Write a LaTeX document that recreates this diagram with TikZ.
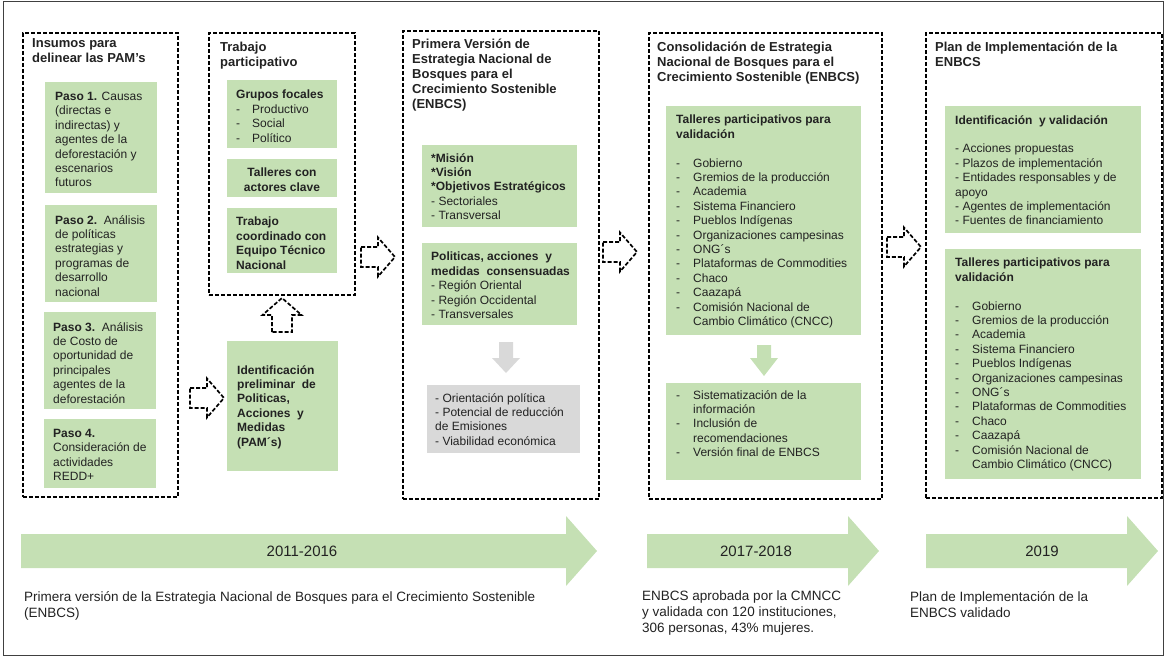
\documentclass[tikz,border=0pt]{standalone}
\usepackage{fontspec}
\setmainfont{Liberation Sans}
\definecolor{gfill}{HTML}{C5E0B4}
\definecolor{grayfill}{HTML}{D9D9D9}
\definecolor{txt}{HTML}{222222}
\tikzset{
  frame/.style={draw=black, line width=1.7pt, dash pattern=on 4pt off 2pt},
  dbox/.style={frame, anchor=north west, inner sep=0pt},
  gbox/.style={fill=gfill, draw=none, anchor=north west, inner sep=0pt},
  graybox/.style={fill=grayfill, draw=none, anchor=north west, inner sep=0pt},
  txtn/.style={anchor=north west, inner sep=0pt, align=left, text=txt, font=\fontsize{12}{14.4}\selectfont},
  ttl/.style={anchor=north west, inner sep=0pt, align=left, text=txt, font=\fontsize{13}{15}\selectfont\bfseries},
  yr/.style={inner sep=0pt, text=txt, font=\fontsize{15}{18}\selectfont},
  btxt/.style={anchor=north west, inner sep=0pt, align=left, text=txt, font=\fontsize{13.5}{16}\selectfont},
  rarr/.pic={\draw[frame, line join=miter] (0,-10) -- (17,-10) -- (17,-19.5) -- (34,0) -- (17,19.5) -- (17,10) -- (0,10) -- cycle;}
}
\newcommand\dsh[1]{\makebox[#1][l]{-}}
\begin{document}
\begin{tikzpicture}[x=1pt,y=-1pt]
\useasboundingbox (0,0) rectangle (1164,656);
\draw[black!75, line width=0.8pt] (3,1) rectangle (1163,655);

% ---------- Box 1
\node[dbox, minimum width=155pt, minimum height=464pt] (b1) at (22,32) {};
\node[ttl] (b1t) at (32,38) {Insumos para\\delinear las PAM’s};
\node[gbox, minimum width=112pt, minimum height=111pt] (p1) at (45,82) {};
\node[txtn] (p1t) at (55,92) {\textbf{Paso 1.} Causas\\(directas e\\indirectas) y\\agentes de la\\deforestación y\\escenarios\\futuros};
\node[gbox, minimum width=112pt, minimum height=97pt] (p2) at (45,205) {};
\node[txtn] (p2t) at (55,215) {\textbf{Paso 2.}\ \ Análisis\\de políticas\\estrategias y\\programas de\\desarrollo\\nacional};
\node[gbox, minimum width=112pt, minimum height=97pt] (p3) at (44,312) {};
\node[txtn] (p3t) at (53,322) {\textbf{Paso 3.}\ \ Análisis\\de Costo de\\oportunidad de\\principales\\agentes de la\\deforestación};
\node[gbox, minimum width=112pt, minimum height=69pt] (p4) at (44,419) {};
\node[txtn] (p4t) at (53,429) {\textbf{Paso 4.}\\Consideración de\\actividades\\REDD+};

% ---------- Box 2
\node[dbox, minimum width=146pt, minimum height=262pt] (b2) at (208,32) {};
\node[ttl] (b2t) at (220,42) {Trabajo\\participativo};
\node[gbox, minimum width=110pt, minimum height=68pt] (g1) at (227,80) {};
\node[txtn] (g1t) at (236,90) {\textbf{Grupos focales}\\\dsh{16pt}Productivo\\\dsh{16pt}Social\\\dsh{16pt}Político};
\node[gbox, minimum width=110pt, minimum height=38pt] (g2) at (227,159) {};
\node[txtn, align=center, anchor=north, font=\fontsize{12}{14.4}\selectfont\bfseries] (g2t) at (282,168) {Talleres con\\actores clave};
\node[gbox, minimum width=110pt, minimum height=65pt] (g3) at (227,208) {};
\node[txtn, font=\fontsize{12}{14.4}\selectfont\bfseries] (g3t) at (236,217) {Trabajo\\coordinado con\\Equipo Técnico\\Nacional};
\node[gbox, minimum width=111pt, minimum height=130pt] (pam) at (227,341) {};
\node[txtn, font=\fontsize{12}{14.4}\selectfont\bfseries] (pamt) at (237,365) {Identificación\\preliminar\ \ de\\Politicas,\\Acciones\ \ y\\Medidas\\(PAM´s)};
\pic at (190,398) {rarr};
\pic[rotate=90] at (282,332) {rarr};

% ---------- Box 3
\pic at (361,257) {rarr};
\node[dbox, minimum width=196pt, minimum height=468pt] (b3) at (402,30) {};
\node[ttl] (b3t) at (412,39) {Primera Versión de\\Estrategia Nacional de\\Bosques para el\\Crecimiento Sostenible\\(ENBCS)};
\node[gbox, minimum width=155pt, minimum height=82pt] (m1) at (422,145) {};
\node[txtn] (m1t) at (431,153) {\textbf{*Misión}\\\textbf{*Visión}\\\textbf{*Objetivos\ Estratégicos}\\- Sectoriales\\- Transversal};
\node[gbox, minimum width=155pt, minimum height=82pt] (m2) at (422,243) {};
\node[txtn] (m2t) at (431,252) {\textbf{Politicas, acciones\ \ y}\\\textbf{medidas\ \ consensuadas}\\- Región Oriental\\- Región Occidental\\- Transversales};
\fill[grayfill] (499,342) -- (513,342) -- (513,358) -- (520,358) -- (506,373) -- (492,358) -- (499,358) -- cycle;
\node[graybox, minimum width=153pt, minimum height=68pt] (m3) at (427,385) {};
\node[txtn] (m3t) at (435,393) {- Orientación política\\- Potencial de reducción\\de Emisiones\\- Viabilidad económica};

% ---------- Box 4
\pic at (603,252) {rarr};
\node[dbox, minimum width=233pt, minimum height=466pt] (b4) at (648,32) {};
\node[ttl] (b4t) at (657,42) {Consolidación de Estrategia\\Nacional de Bosques para el\\Crecimiento Sostenible (ENBCS)};
\node[gbox, minimum width=195pt, minimum height=229pt] (c1) at (666,106) {};
\node[txtn] (c1t) at (676,115) {\textbf{Talleres participativos para}\\\textbf{validación}\\[14.4pt]
\dsh{17pt}Gobierno\\\dsh{17pt}Gremios de la producción\\\dsh{17pt}Academia\\\dsh{17pt}Sistema Financiero\\\dsh{17pt}Pueblos Indígenas\\\dsh{17pt}Organizaciones campesinas\\\dsh{17pt}ONG´s\\\dsh{17pt}Plataformas de Commodities\\\dsh{17pt}Chaco\\\dsh{17pt}Caazapá\\\dsh{17pt}Comisión Nacional de\\\hspace*{17pt}Cambio Climático (CNCC)};
\fill[gfill] (757,345) -- (771,345) -- (771,358) -- (778,358) -- (764,376) -- (750,358) -- (757,358) -- cycle;
\node[gbox, minimum width=195pt, minimum height=97pt] (c2) at (666,383) {};
\node[txtn] (c2t) at (676,390) {\dsh{17pt}Sistematización de la\\\hspace*{17pt}información\\\dsh{17pt}Inclusión de\\\hspace*{17pt}recomendaciones\\\dsh{17pt}Versión final de ENBCS};

% ---------- Box 5
\pic at (887,247) {rarr};
\node[dbox, minimum width=236pt, minimum height=465pt] (b5) at (925,32) {};
\node[ttl] (b5t) at (935,42) {Plan de Implementación de la\\ENBCS};
\node[gbox, minimum width=196pt, minimum height=127pt] (d1) at (945,106) {};
\node[txtn] (d1t) at (955,115) {\textbf{Identificación\ \ y validación}\\[14.4pt]- Acciones propuestas\\- Plazos de implementación\\- Entidades responsables y de\\apoyo\\- Agentes de implementación\\- Fuentes de financiamiento};
\node[gbox, minimum width=196pt, minimum height=230pt] (d2) at (945,249) {};
\node[txtn] (d2t) at (955,258) {\textbf{Talleres participativos para}\\\textbf{validación}\\[14.4pt]
\dsh{17pt}Gobierno\\\dsh{17pt}Gremios de la producción\\\dsh{17pt}Academia\\\dsh{17pt}Sistema Financiero\\\dsh{17pt}Pueblos Indígenas\\\dsh{17pt}Organizaciones campesinas\\\dsh{17pt}ONG´s\\\dsh{17pt}Plataformas de Commodities\\\dsh{17pt}Chaco\\\dsh{17pt}Caazapá\\\dsh{17pt}Comisión Nacional de\\\hspace*{17pt}Cambio Climático (CNCC)};

% ---------- Timeline
\fill[gfill] (21,534) -- (566,534) -- (566,516) -- (597,551) -- (566,586) -- (566,568) -- (21,568) -- cycle;
\node[yr] (y1) at (302,551) {2011-2016};
\fill[gfill] (647,534) -- (848,534) -- (848,516) -- (879,551) -- (848,586) -- (848,568) -- (647,568) -- cycle;
\node[yr] (y2) at (756,551) {2017-2018};
\fill[gfill] (926,534) -- (1127,534) -- (1127,516) -- (1158,551) -- (1127,586) -- (1127,568) -- (926,568) -- cycle;
\node[yr] (y3) at (1042,551) {2019};

\node[btxt] (n1) at (24,591) {Primera versión de la Estrategia Nacional de Bosques para el Crecimiento Sostenible\\(ENBCS)};
\node[btxt] (n2) at (642,591) {ENBCS aprobada por la CMNCC\\y validada con 120 instituciones,\\306 personas, 43\% mujeres.};
\node[btxt] (n3) at (910,591) {Plan de Implementación de la\\ENBCS validado};
\end{tikzpicture}
\end{document}
